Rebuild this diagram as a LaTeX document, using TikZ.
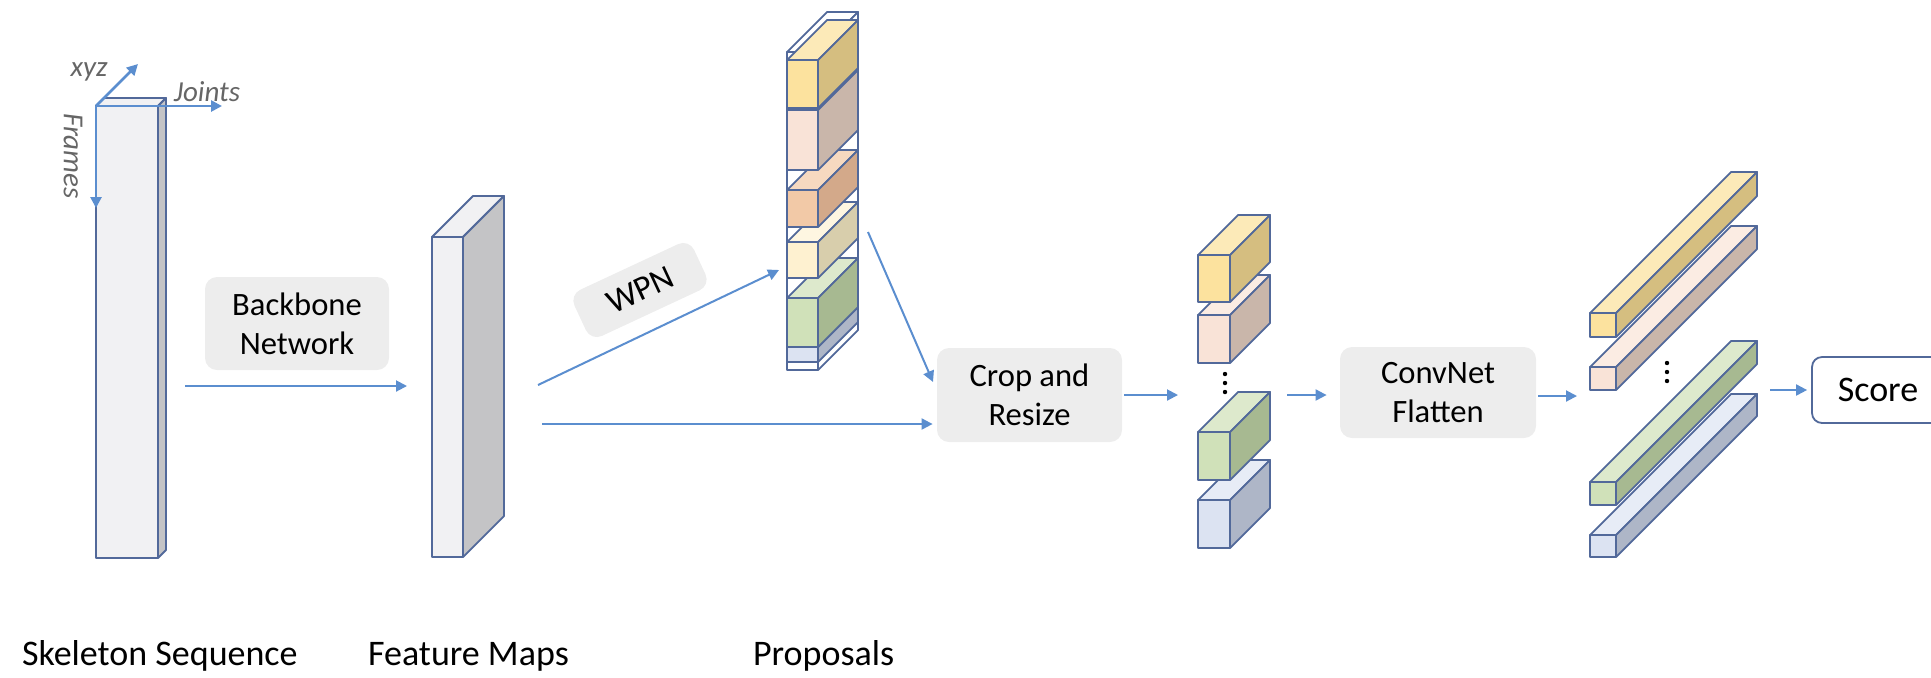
\documentclass[tikz,border=0pt]{standalone}
\usepackage{fontspec}
\setmainfont{Carlito}
\usetikzlibrary{arrows.meta}

\definecolor{edgeblue}{HTML}{52699A}
\definecolor{arrowblue}{HTML}{5B8ECF}
\definecolor{boxgray}{HTML}{EDEDED}
\definecolor{axisgray}{HTML}{666666}
\definecolor{skelfront}{HTML}{F1F1F3}
\definecolor{skelside}{HTML}{C4C4C6}
% 彩色块：正面 / 侧面 / 顶面
\definecolor{yelF}{HTML}{FCE29E}\definecolor{yelS}{HTML}{D5BE80}\definecolor{yelT}{HTML}{FCEAB8}
\definecolor{pnkF}{HTML}{F9E3D7}\definecolor{pnkS}{HTML}{C9B6AA}\definecolor{pnkT}{HTML}{FBECE3}
\definecolor{tanF}{HTML}{F2C9A7}\definecolor{tanS}{HTML}{D3A98A}\definecolor{tanT}{HTML}{F6D9C0}
\definecolor{crmF}{HTML}{FEF1D0}\definecolor{crmS}{HTML}{D8CEAC}\definecolor{crmT}{HTML}{FEF6E1}
\definecolor{grnF}{HTML}{D0E1B9}\definecolor{grnS}{HTML}{A7B991}\definecolor{grnT}{HTML}{DDE9CC}
\definecolor{bluF}{HTML}{DCE3F2}\definecolor{bluS}{HTML}{AEB6C7}\definecolor{bluT}{HTML}{E7ECF6}

\begin{document}
\begin{tikzpicture}[x=0.5pt,y=-0.5pt,line cap=butt,line join=miter,
                    every node/.style={font=\fontsize{16.3pt}{19.5pt}\selectfont},
                    cube/.style={draw=edgeblue,line width=0.9pt,line join=round},
                    procbox/.style={fill=boxgray,rounded corners=6pt,align=center,inner sep=0pt},
                    flow/.style={draw=arrowblue,line width=1pt,-{Triangle[length=5.5pt,width=5.5pt]}},
                    axislabel/.style={text=axisgray,font=\fontsize{14.5pt}{17pt}\selectfont\itshape},
                    caption/.style={anchor=base west,font=\fontsize{18pt}{21pt}\selectfont}]
% ---- 坐标（px，原点=左上角，y 向下）----
% 长方体：#1,#2 正面左上角；#3 宽；#4 高；#5 进深（45°）；#6 正面 #7 侧面 #8 顶面
\def\drawcube#1#2#3#4#5#6#7#8{%
  \filldraw[cube,fill=#8] (#1,#2) -- ++(#5,-#5) -- ++(#3,0) -- ++(-#5,#5) -- cycle;
  \filldraw[cube,fill=#7] (#1+#3,#2) -- ++(#5,-#5) -- ++(0,#4) -- ++(-#5,#5) -- cycle;
  \filldraw[cube,fill=#6] (#1,#2) rectangle ++(#3,#4);}
% ---- 骨架序列 + 坐标轴 ----
\drawcube{96}{106}{62}{452}{8}{skelfront}{skelside}{skelfront}
\coordinate (axo) at (96,106);
\coordinate (axxyz) at (138,64);
\coordinate (axjoint) at (222,106);
\coordinate (axframe) at (96,208);
\draw[flow,line width=1.3pt] (axo) -- (axxyz);
\draw[flow,line width=1.3pt] (axo) -- (axjoint);
\draw[flow,line width=1.3pt] (axo) -- (axframe);
\node[axislabel] (lblxyz) at (89,72) {xyz};
\node[axislabel] (lbljoints) at (207,92) {Joints};
\node[axislabel,rotate=-90] (lblframes) at (73,156) {Frames};
% ---- 特征图 ----
\drawcube{432}{237}{31}{320}{41}{skelfront}{skelside}{skelfront}
% ---- 候选框：白色外框，彩色块自下而上 ----
\drawcube{787}{52}{31}{318}{40}{white}{white}{white}
\drawcube{787}{347}{31}{15}{40}{bluF}{bluS}{bluT}
\drawcube{787}{298}{31}{49}{40}{grnF}{grnS}{grnT}
\drawcube{787}{242}{31}{36}{40}{crmF}{crmS}{crmT}
\drawcube{787}{190}{31}{37}{40}{tanF}{tanS}{tanT}
\drawcube{787}{110}{31}{60}{40}{pnkF}{pnkS}{pnkT}
\drawcube{787}{60}{31}{48}{40}{yelF}{yelS}{yelT}
% ---- 裁剪后的小块 ----
\drawcube{1198}{500}{32}{48}{40}{bluF}{bluS}{bluT}
\drawcube{1198}{432}{32}{48}{40}{grnF}{grnS}{grnT}
\drawcube{1198}{315}{32}{48}{40}{pnkF}{pnkS}{pnkT}
\drawcube{1198}{255}{32}{47}{40}{yelF}{yelS}{yelT}
\foreach \y in {374,383,392} \fill (1225,\y) circle[radius=2.2];
% ---- 展平后的长条 ----
\drawcube{1590}{535}{26}{22}{141}{bluF}{bluS}{bluT}
\drawcube{1590}{482}{26}{23}{141}{grnF}{grnS}{grnT}
\drawcube{1590}{367}{26}{23}{141}{pnkF}{pnkS}{pnkT}
\drawcube{1590}{313}{26}{24}{141}{yelF}{yelS}{yelT}
\foreach \y in {363,372,381} \fill (1667,\y) circle[radius=2.2];
% ---- 处理框 ----
\node[procbox,minimum width=92pt,minimum height=46.5pt] (backbone) at (297,323.5) {Backbone\\Network};
\node[procbox,minimum width=66pt,minimum height=25.5pt,rotate=25,
      font=\fontsize{17pt}{20pt}\selectfont] (wpn) at (640,290) {WPN};
\node[procbox,minimum width=92.5pt,minimum height=47pt] (crop) at (1029.5,395) {Crop and\\Resize};
\node[procbox,minimum width=98pt,minimum height=45.5pt] (convnet) at (1438,392.5) {ConvNet\\Flatten};
\node[draw=edgeblue,line width=0.9pt,fill=white,rounded corners=5pt,inner sep=0pt,
      minimum width=66pt,minimum height=33pt,font=\fontsize{18pt}{21pt}\selectfont] (score) at (1878,390) {Score};
% ---- 连线 ----
\coordinate (bbL) at (185,386);   \coordinate (bbR) at (407,386);
\coordinate (featW) at (538,385); \coordinate (propIn) at (779,270);
\coordinate (featE) at (542,424);
\coordinate (propOut) at (868,232); \coordinate (cropIn) at (933,382);
\coordinate (cubesIn) at (1178,395); \coordinate (cubesOut) at (1287,395);
\coordinate (barsIn) at (1577,396);  \coordinate (barsOut) at (1770,390);
\draw[flow] (bbL) -- (bbR);
\draw[flow] (featW) -- (propIn);
\draw[flow,shorten >=2pt] (featE) -- (featE -| crop.west);
\draw[flow] (propOut) -- (cropIn);
\draw[flow] ([xshift=1pt]crop.east) -- (cubesIn);
\draw[flow,shorten >=6.5pt] (cubesOut) -- (cubesOut -| convnet.west);
\draw[flow] ([xshift=1pt]convnet.east |- barsIn) -- (barsIn);
\draw[flow,shorten >=2pt] (barsOut) -- (score.west);
% ---- 底部标题 ----
\node[caption] (lblskel) at (15,665) {Skeleton Sequence};
\node[caption] (lblfeat) at (361,665) {Feature Maps};
\node[caption] (lblprop) at (746,665) {Proposals};
% ---- 画布 1931x677 px ----
\pgfresetboundingbox
\path[use as bounding box] (0,0) rectangle (1931,677);
\end{tikzpicture}
\end{document}
